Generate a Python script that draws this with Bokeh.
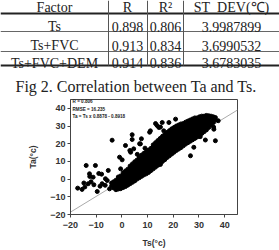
from bokeh.plotting import figure
from bokeh.models import Range1d, FixedTicker, Label
from bokeh.core.properties import value
from bokeh.embed import file_html
from bokeh.resources import INLINE

# ---- table values ----
header = ["Factor", "R", "R\u00b2", "ST_DEV(\u2103)"]
factors = ["Ts", "Ts+FVC", "Ts+FVC+DEM"]
r_vals = [0.898, 0.913, 0.914]
r2_vals = [0.806, 0.834, 0.836]
std_vals = [3.9987899, 3.6990532, 3.6783035]
caption = "Fig 2. Correlation between Ta and Ts."

# ---- scatter statistics ----
r_value = 0.806
rmse = 16.235
slope = 0.8878
intercept = -0.8918

# ---- axis ticks ----
x_ticks = [-20, -10, 0, 10, 20, 30, 40]
y_ticks = [-20, -10, 0, 10, 20, 30, 40]

# dense band of observations: Ts of each column and the Ta values in it
band_ts = [-4.0, -3.2, -2.3, -1.4, -0.5, 0.5, 1.4, 2.3, 3.2, 4.1, 5.0, 5.9, 6.8,
           7.7, 8.6, 9.5, 10.4, 11.3, 12.2, 13.1, 14.0, 14.9, 15.8, 16.7, 17.6,
           18.5, 19.4, 20.3, 21.2, 22.1, 23.0, 23.9, 24.8, 25.7, 26.6, 27.5,
           28.4, 29.3, 30.2, 31.1, 32.0, 32.9, 33.8, 34.7, 35.6, 36.4]
band_ta = [
    [-3.8, -2.2],
    [-5.0, -3.3, -1.5],
    [-6.0, -4.2, -2.4, -0.6],
    [-5.6, -3.8, -2.0, -0.2, 1.2],
    [-5.4, -3.6, -1.8, 0.0, 1.8],
    [-4.8, -3.0, -1.2, 0.6, 2.4, 3.6],
    [-4.2, -2.4, -0.6, 1.2, 3.0, 4.6],
    [-3.4, -1.6, 0.2, 2.0, 3.8, 5.6],
    [-2.6, -0.8, 1.0, 2.8, 4.6, 6.4, 7.4],
    [-1.8, 0.0, 1.8, 3.6, 5.4, 7.2, 8.6],
    [-1.0, 0.8, 2.6, 4.4, 6.2, 8.0, 9.8],
    [0.0, 1.8, 3.6, 5.4, 7.2, 9.0, 10.8],
    [0.8, 2.6, 4.4, 6.2, 8.0, 9.8, 11.6, 12.4],
    [1.6, 3.4, 5.2, 7.0, 8.8, 10.6, 12.4, 13.6],
    [2.4, 4.2, 6.0, 7.8, 9.6, 11.4, 13.2, 14.6],
    [3.0, 4.8, 6.6, 8.4, 10.2, 12.0, 13.8, 15.4],
    [3.8, 5.6, 7.4, 9.2, 11.0, 12.8, 14.6, 16.4],
    [4.8, 6.6, 8.4, 10.2, 12.0, 13.8, 15.6, 17.4],
    [5.8, 7.6, 9.4, 11.2, 13.0, 14.8, 16.6, 18.4, 19.4],
    [6.8, 8.6, 10.4, 12.2, 14.0, 15.8, 17.6, 19.4, 20.6],
    [7.8, 9.6, 11.4, 13.2, 15.0, 16.8, 18.6, 20.4, 21.8],
    [8.8, 10.6, 12.4, 14.2, 16.0, 17.8, 19.6, 21.4, 23.0],
    [10.0, 11.8, 13.6, 15.4, 17.2, 19.0, 20.8, 22.6, 24.2],
    [11.0, 12.8, 14.6, 16.4, 18.2, 20.0, 21.8, 23.6, 25.2],
    [12.2, 14.0, 15.8, 17.6, 19.4, 21.2, 23.0, 24.8, 26.4],
    [13.2, 15.0, 16.8, 18.6, 20.4, 22.2, 24.0, 25.8, 27.4],
    [14.2, 16.0, 17.8, 19.6, 21.4, 23.2, 25.0, 26.8, 28.4],
    [15.2, 17.0, 18.8, 20.6, 22.4, 24.2, 26.0, 27.8, 29.2],
    [16.2, 18.0, 19.8, 21.6, 23.4, 25.2, 27.0, 28.8, 30.0],
    [17.0, 18.8, 20.6, 22.4, 24.2, 26.0, 27.8, 29.6, 30.6],
    [17.8, 19.6, 21.4, 23.2, 25.0, 26.8, 28.6, 30.4, 31.2],
    [18.8, 20.6, 22.4, 24.2, 26.0, 27.8, 29.6, 31.4],
    [19.8, 21.6, 23.4, 25.2, 27.0, 28.8, 30.6, 32.2],
    [20.6, 22.4, 24.2, 26.0, 27.8, 29.6, 31.4, 32.8],
    [21.4, 23.2, 25.0, 26.8, 28.6, 30.4, 32.2, 33.4],
    [22.2, 24.0, 25.8, 27.6, 29.4, 31.2, 33.0, 34.0],
    [23.0, 24.8, 26.6, 28.4, 30.2, 32.0, 33.8, 34.6],
    [23.8, 25.6, 27.4, 29.2, 31.0, 32.8, 34.6],
    [24.8, 26.6, 28.4, 30.2, 32.0, 33.8, 35.2],
    [25.8, 27.6, 29.4, 31.2, 33.0, 34.8, 35.6],
    [26.8, 28.6, 30.4, 32.2, 34.0, 35.6],
    [27.8, 29.6, 31.4, 33.2, 35.0, 36.0],
    [29.2, 31.0, 32.8, 34.6, 35.8],
    [30.6, 32.4, 34.2, 35.6],
    [32.0, 33.8, 35.2],
    [33.4, 34.8],
]

# scattered observations away from the band
sparse_ts = [-17.2, -15.5, -14.4, -13.1, -14.8, -12.5, -12.6, -13.9, -10.3, -11.2,
             -9.0, -7.9, -10.9, -9.6, -7.7, -6.4, -5.7, -5.3, -0.5, -12.0,
             -8.5, -6.5, -4.8, -3.8, 4.0, 4.0, 10.8, 7.6, 6.9, 3.1,
             4.6, -0.9, 0.1, 1.4, 13.7, 15.0, 13.1, 15.7, 18.3, 20.9,
             16.3, 11.1, 14.4, 7.2, 3.4, 9.0, 6.0, 35.8, 36.4, 32.5,
             26.7, 35.7, 28.0, 30.5, 15.0, 37.5]
sparse_ta = [-5.1, -5.8, -4.4, -2.6, -2.2, 1.5, 3.0, 7.7, 7.7, 1.1,
             3.2, 2.8, -3.2, -7.0, -2.6, 0.2, -0.8, 4.9, 5.8, -1.5,
             -4.0, -3.5, -5.5, 22.0, 25.1, 22.4, 26.5, 22.8, 20.0, 16.2,
             17.1, 12.4, 10.9, 19.0, 30.3, 29.4, 31.4, 32.0, 32.0, 33.9,
             27.3, 27.3, 29.2, 19.9, 15.2, 17.5, 14.0, 28.2, 21.7, 22.1,
             13.2, 29.4, 18.0, 24.0, 8.3, 33.0]

pts_ts = []
pts_ta = []
for ts, col in zip(band_ts, band_ta):
    for ta in col:
        pts_ts.append(ts)
        pts_ta.append(ta)
pts_ts += sparse_ts
pts_ta += sparse_ta

SERIF = "Liberation Serif"
SANS = "Liberation Sans"

# ---- table and caption ----
t = figure(width=279, height=96, x_range=Range1d(0, 279), y_range=Range1d(96, 0),
           output_backend="svg", toolbar_location=None,
           x_axis_type=None, y_axis_type=None, min_border=0)
t.outline_line_color = None

col_x = [54, 127, 165, 231]
head_y = 7
row_y = [26, 45, 62.5]

t.segment(x0=[0, 0], y0=[13, 65], x1=[279, 279], y1=[13, 65],
          line_color="#222222", line_width=2)
t.segment(x0=[0, 0], y0=[31, 51], x1=[279, 279], y1=[31, 51],
          line_color="#666666", line_width=1)
t.segment(x0=[108, 147, 183], y0=[0, 0, 0], x1=[108, 147, 183], y1=[65, 65, 65],
          line_color="#555555", line_width=1)

t.text(x=col_x, y=[head_y] * 4, text=header, text_align="center",
       text_baseline="alphabetic", text_font=value(SERIF),
       text_font_size="14px", text_color="#222222")

cell_x, cell_y, cell_t = [], [], []
for i, f in enumerate(factors):
    vals = [f, f"{r_vals[i]:.3f}", f"{r2_vals[i]:.3f}", f"{std_vals[i]:.7f}"]
    for cx, v in zip(col_x, vals):
        cell_x.append(cx)
        cell_y.append(row_y[i])
        cell_t.append(v)
t.text(x=cell_x, y=cell_y, text=cell_t, text_align="center",
       text_baseline="alphabetic", text_font=value(SERIF),
       text_font_size="14px", text_color="#222222")

t.text(x=[15], y=[86], text=[caption], text_align="left",
       text_baseline="alphabetic", text_font=value(SERIF),
       text_font_size="16px", text_color="#222222")

# ---- scatter plot ----
p = figure(width=279, height=154, x_range=Range1d(-20, 45), y_range=Range1d(-20, 45),
           output_backend="svg", toolbar_location=None,
           min_border_left=70, min_border_right=42, min_border_top=3,
           min_border_bottom=36)
p.xgrid.visible = False
p.ygrid.visible = False
p.outline_line_color = "#444444"
p.background_fill_color = "white"
p.border_fill_color = "white"

p.xaxis.ticker = FixedTicker(ticks=x_ticks)
p.yaxis.ticker = FixedTicker(ticks=y_ticks)
for ax in (p.xaxis, p.yaxis):
    ax.axis_line_color = "#444444"
    ax.major_tick_line_color = "#444444"
    ax.major_tick_in = 0
    ax.major_tick_out = 3
    ax.minor_tick_in = 0
    ax.minor_tick_out = 0
    ax.major_label_text_font = SANS
    ax.major_label_text_font_style = "bold"
    ax.major_label_text_font_size = "9px"
    ax.major_label_text_color = "#333333"
    ax.axis_label_text_font = SANS
    ax.axis_label_text_font_style = "bold"
    ax.axis_label_text_font_size = "8.5px"
    ax.axis_label_text_color = "#333333"
    ax.axis_label_standoff = 7
p.xaxis.major_label_standoff = 4
p.yaxis.major_label_standoff = 2
p.yaxis.axis_label_standoff = 9
p.xaxis.axis_label = "Ts(\u00b0c)"
p.yaxis.axis_label = "Ta(\u00b0c)"

# fitted line
line_x = [-20, 45]
line_y = [slope * v + intercept for v in line_x]
p.line(line_x, line_y, line_color="#aaaaaa", line_width=1)

p.scatter(pts_ts, pts_ta, size=4, marker="circle", color="black")

stats = [f"R = {r_value:.3f}", f"RMSE = {rmse:.3f}",
         f"Ta = Ts x {slope:.4f} - {abs(intercept):.4f}"]
for txt, yy in zip(stats, [43.6, 39.6, 35.4]):
    p.add_layout(Label(x=-19.2, y=yy, text=txt, text_font=SANS,
                       text_font_style="bold", text_font_size="4.6px",
                       text_baseline="middle", text_color="#222222"))

# table block on top, scatter below: two roots stacked on the page
open("out.html", "w").write(file_html([t, p], INLINE))
